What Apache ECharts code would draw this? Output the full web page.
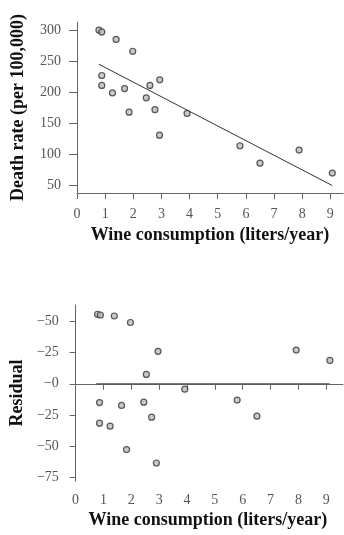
<!DOCTYPE html>
<html>
<head>
<meta charset="utf-8">
<script src="https://cdn.jsdelivr.net/npm/echarts@6/dist/echarts.min.js"></script>
<style>
html,body{margin:0;padding:0;background:#fff;}
#c{width:344px;height:535px;}
</style>
</head>
<body>
<div id="c"></div>
<script>
// Top panel: wine consumption vs death rate
var wineX = [0.78,0.88,1.39,1.98,0.88,0.88,1.26,1.69,1.85,2.46,2.59,2.94,2.77,2.93,3.91,5.79,6.50,7.89,9.07];
var deathY = [300,297,285,266,227,211,199,206,168,191,211,220,172,131,166,114,86,107,70];
var fitX = [0.78, 9.07];
var fitY = [245, 50];
// Bottom panel: residuals
var resX = [0.79,0.89,1.39,1.97,2.96,2.54,3.92,0.86,1.65,2.45,2.73,0.86,1.24,1.83,2.90,5.80,6.51,7.92,9.13];
var resY = [55.6,55,54.2,49,26,7.5,-4.3,-15,-17.3,-14.7,-26.7,-31.5,-33.9,-52.6,-63.3,-13,-25.9,27,18.7];
var zeroX = [0.74, 9.12];
var zeroY = [0, 0];
// Tick values / labels
var xTicks = [0,1,2,3,4,5,6,7,8,9];
var deathTicks = [50,100,150,200,250,300];
var resTicks = [-75,-50,-25,0,25,50];
var resTickLabels = ['\u221275','\u221250','\u221225','\u22120','\u221225','\u221250'];

function pairs(xs, ys){ return xs.map(function(x,i){ return [x, ys[i]]; }); }

var serif = '"Liberation Serif","DejaVu Serif",serif';
var lblStyle = {fontFamily: serif, fontSize: 14, color: '#555'};
var nameStyle = {fontFamily: serif, fontSize: 18, fontWeight: 'bold', color: '#111'};
var axLine = {show: true, lineStyle: {color: '#666', width: 1}};
var tickLine = {color: '#666', width: 1};

var chart = echarts.init(document.getElementById('c'), null, {renderer: 'canvas'});
chart.setOption({
  animation: false,
  backgroundColor: '#fff',
  grid: [
    {left: 77, top: 22, width: 266, height: 171},
    {left: 71, top: 305, width: 272, height: 176}
  ],
  xAxis: [
    {gridIndex: 0, type: 'value', min: 0, max: 9.45,
     name: 'Wine consumption (liters/year)', nameLocation: 'middle', nameGap: 33, nameTextStyle: nameStyle,
     axisLine: axLine, splitLine: {show: false},
     axisTick: {show: true, length: 6, customValues: xTicks, lineStyle: tickLine},
     axisLabel: Object.assign({margin: 14, customValues: xTicks}, lblStyle)},
    {gridIndex: 1, type: 'value', min: -0.1, max: 9.6,
     name: 'Wine consumption (liters/year)', nameLocation: 'middle', nameGap: 30, nameTextStyle: nameStyle,
     axisLine: axLine, splitLine: {show: false},
     axisTick: {show: true, length: 6, customValues: xTicks, lineStyle: tickLine},
     axisLabel: Object.assign({margin: 12, customValues: xTicks}, lblStyle)}
  ],
  yAxis: [
    {gridIndex: 0, type: 'value', min: 38, max: 313,
     name: 'Death rate (per 100,000)', nameLocation: 'middle', nameGap: 50, nameTextStyle: nameStyle,
     axisLine: axLine, splitLine: {show: false},
     axisTick: {show: true, length: 8, customValues: deathTicks, lineStyle: tickLine},
     axisLabel: Object.assign({margin: 16, customValues: deathTicks}, lblStyle)},
    {gridIndex: 1, type: 'value', min: -77.7, max: 63,
     name: 'Residual', nameLocation: 'middle', nameGap: 44, nameTextStyle: nameStyle,
     axisLine: axLine, splitLine: {show: false},
     axisTick: {show: true, length: 6, customValues: resTicks, lineStyle: tickLine},
     axisLabel: Object.assign({margin: 14, customValues: resTicks,
       formatter: function(v){ var i = resTicks.indexOf(Math.round(v)); return i >= 0 ? resTickLabels[i] : ''; }}, lblStyle)}
  ],
  series: [
    {type: 'line', xAxisIndex: 0, yAxisIndex: 0, data: pairs(fitX, fitY), symbol: 'none',
     lineStyle: {color: '#333', width: 1}, z: 1},
    {type: 'scatter', xAxisIndex: 0, yAxisIndex: 0, data: pairs(wineX, deathY), symbol: 'circle', symbolSize: 6,
     itemStyle: {color: '#bbb', borderColor: '#333', borderWidth: 1.2}, z: 2},
    {type: 'line', xAxisIndex: 1, yAxisIndex: 1, data: pairs(zeroX, zeroY), symbol: 'none',
     lineStyle: {color: '#444', width: 1}, z: 1},
    {type: 'scatter', xAxisIndex: 1, yAxisIndex: 1, data: pairs(resX, resY), symbol: 'circle', symbolSize: 6,
     itemStyle: {color: '#bbb', borderColor: '#333', borderWidth: 1.2}, z: 2}
  ]
});
</script>
</body>
</html>
